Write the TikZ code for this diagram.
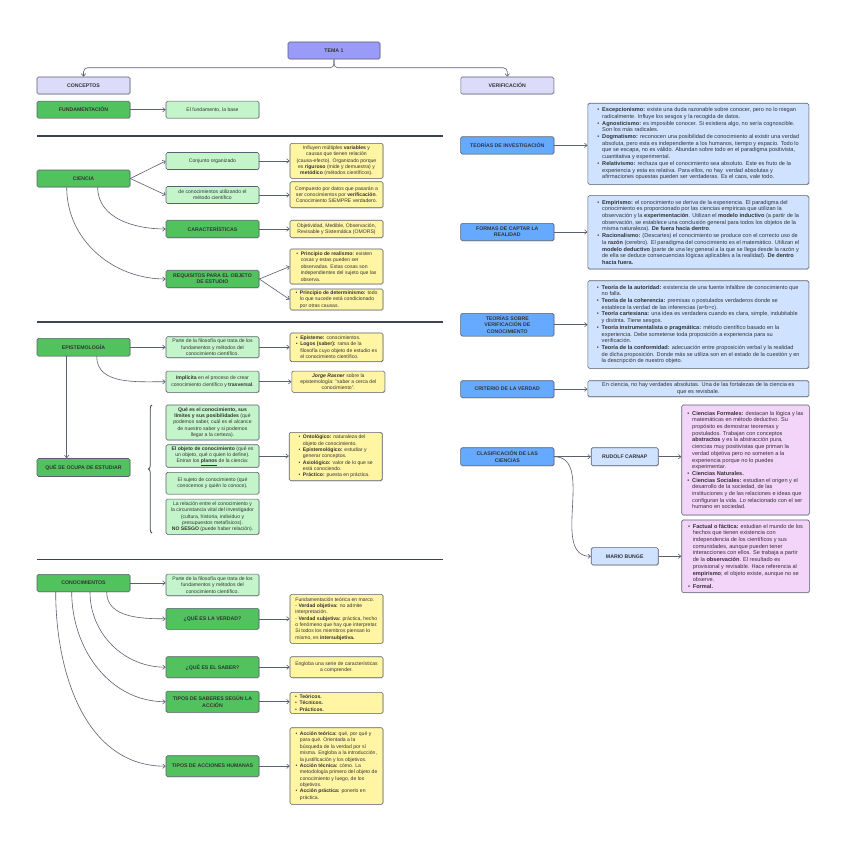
\documentclass[tikz,border=0pt]{standalone}
\usepackage{fontspec}
\setmainfont{Liberation Sans}
\usetikzlibrary{arrows.meta, positioning, backgrounds, shadows, decorations.pathreplacing}

\definecolor{mpTema}{HTML}{9A9AF8}
\definecolor{mpConcepto}{HTML}{DCDCFA}
\definecolor{mpBloque}{HTML}{52C25E}
\definecolor{mpIdea}{HTML}{C4F5CA}
\definecolor{mpNota}{HTML}{FFF5A3}
\definecolor{mpRama}{HTML}{66AAFF}
\definecolor{mpDetalle}{HTML}{CFE2FF}
\definecolor{mpClase}{HTML}{F3D5FA}
\definecolor{mpLinea}{HTML}{5B6070}
\definecolor{mpSep}{HTML}{3E4451}
\definecolor{mpTexto}{HTML}{333333}

\newcommand\bul{\makebox[0.85em][l]{\textbullet}}
\newcommand\sig{\hspace*{0.85em}}
\newcommand\titfont{\fontsize{5.2}{6.3}\selectfont\bfseries}
\newcommand\txtfont{\fontsize{5.1}{6.35}\selectfont}
\newcommand\anchofont{\fontsize{5.6}{6.7}\selectfont}

\tikzset{
  caja/.style={
    draw=mpLinea, line width=0.6pt, rounded corners=1.5pt, align=center,
    inner sep=1.5pt, text=mpTexto, font=\txtfont,
    minimum width=93pt, minimum height=17pt,
    drop shadow={shadow xshift=0.7pt, shadow yshift=-0.7pt, opacity=0.25}
  },
  tema/.style={caja, fill=mpTema, font=\titfont, minimum width=92pt},
  concepto/.style={caja, fill=mpConcepto, font=\titfont},
  bloque/.style={caja, fill=mpBloque, font=\titfont},
  idea/.style={caja, fill=mpIdea},
  nota/.style={caja, fill=mpNota},
  rama/.style={caja, fill=mpRama, font=\titfont, minimum width=93.3pt},
  detalle/.style={caja, fill=mpDetalle, font=\anchofont, minimum width=221pt},
  autor/.style={caja, fill=mpDetalle, font=\titfont, minimum width=67pt},
  clase/.style={caja, fill=mpClase, font=\anchofont, minimum width=127.6pt},
  enlace/.style={-{Straight Barb[length=2.6pt, width=4.4pt]}, draw=mpLinea, line width=0.6pt},
  separador/.style={draw=mpSep, line width=1.8pt},
  llave/.style={decorate, decoration={brace, amplitude=3.5pt}, draw=mpSep, line width=0.8pt}
}

\begin{document}
\begin{tikzpicture}[x=1pt, y=1pt]
  \useasboundingbox[fill=white] (0,0) rectangle (848,-848);

  % cabecera
  \node[tema] (tema) at (334,-50.5) {TEMA 1};
  \node[concepto] (conceptos) at (83.5,-85.5) {CONCEPTOS};
  \node[concepto] (verif) at (507.3,-85.5) {VERIFICACIÓN};
  \draw[enlace, rounded corners=4pt] (tema.south) -- ++(0,-8.5) -| (conceptos.north);
  \draw[enlace, rounded corners=4pt] (tema.south) -- ++(0,-8.5) -| (verif.north);

  \node[bloque] (fund) at (83.5,-109.7) {FUNDAMENTACIÓN};
  \node[idea] (fundbase) at (212.5,-109.7) {El fundamento, la base};
  \draw[enlace] (fund) -- (fundbase);

  \draw[separador] (37,-136) -- (443,-136);

  % ciencia
  \node[bloque] (ciencia) at (83.5,-178.5) {CIENCIA};
  \node[idea] (conjunto) at (212.5,-161) {Conjunto organizado};
  \node[idea] (metodo) at (212.5,-195) {de conocimientos utilizando el\\método científico};
  \node[bloque, minimum height=17.5pt] (caract) at (212.5,-229) {CARACTERÍSTICAS};
  \node[bloque, minimum height=17.5pt] (requisitos) at (212.5,-279) {REQUISITOS PARA EL OBJETO\\DE ESTUDIO};
  \node[nota, minimum height=35pt] (variables) at (336.5,-160.8)
    {Influyen múltiples \textbf{variables} y\\causas que tienen relación\\(causa-efecto). Organizado porque\\es \textbf{riguroso} (mide y demuestra) y\\\textbf{metódico} (métodos científicos).};
  \node[nota, minimum height=26pt] (verificado) at (336.5,-194.7)
    {Compuesto por datos que pasarán a\\ser conocimientos por \textbf{verificación}.\\Conocimiento SIEMPRE verdadero.};
  \node[nota, minimum height=17.5pt] (omors) at (336.5,-229)
    {Objetividad, Medible, Observación,\\Revisable y Sistemática (OMORS)};
  \node[nota, minimum height=35pt, align=left] (realismo) at (336.5,-266.5)
    {\bul\textbf{Principio de realismo:} existen\\\sig cosas y estas pueden ser\\\sig observadas. Estas cosas son\\\sig independientes del sujeto que las\\\sig observa.};
  \node[nota, minimum height=21pt, align=left] (determinismo) at (336.5,-299.5)
    {\bul\textbf{Principio de determinismo:} todo\\\sig lo que sucede está condicionado\\\sig por otras causas.};
  \draw[enlace] (ciencia.east) -- (conjunto.west);
  \draw[enlace] (ciencia.east) -- (metodo.west);
  \draw[enlace] ([xshift=14.2pt]ciencia.south) to[out=-90, in=180] (caract.west);
  \draw[enlace] ([xshift=-16.8pt]ciencia.south) to[out=-90, in=180] (requisitos.west);
  \draw[enlace] (conjunto.east) -- (conjunto.east -| variables.west);
  \draw[enlace] (metodo.east) -- (metodo.east -| verificado.west);
  \draw[enlace] (caract) -- (omors);
  \draw[enlace] (requisitos.east) -- (realismo.west);
  \draw[enlace] (requisitos.east) -- (determinismo.west);

  \draw[separador] (37,-322) -- (443,-322);

  % epistemologia
  \node[bloque, minimum height=17.7pt] (epist) at (83.5,-347.2) {EPISTEMOLOGÍA};
  \node[idea, minimum height=21pt] (filosofia) at (212.5,-347.2)
    {Parte de la filosofía que trata de los\\fundamentos y métodos del\\conocimiento científico.};
  \node[nota, minimum height=28.7pt, align=left] (episteme) at (336.5,-347.3)
    {\bul\textbf{Episteme:} conocimientos.\\\bul\textbf{Logos (saber):} rama de la\\\sig filosofía cuyo objeto de estudio es\\\sig el conocimiento científico.};
  \node[idea, minimum height=21.3pt] (implicita) at (212.5,-381.7)
    {\textbf{Implícita} en el proceso de crear\\conocimiento científico y \textbf{trasversal}.};
  \node[nota, minimum height=21.3pt] (rasner) at (338.3,-381.7)
    {\textbf{\textit{Jorge Rasner}} sobre la\\epistemología: "saber a cerca del\\conocimiento".};
  \node[bloque, minimum height=18pt] (ocupa) at (83.5,-467.5) {QUÉ SE OCUPA DE ESTUDIAR};
  \node[idea, minimum height=35pt] (quees) at (212.5,-422.5)
    {\textbf{Qué es el conocimiento, sus}\\\textbf{límites y sus posibilidades} (qué\\podemos saber, cuál es el alcance\\de nuestro saber y si podemos\\llegar a la certeza).};
  \node[idea, minimum height=22pt] (objeto) at (212.5,-456)
    {\textbf{El objeto de conocimiento} (qué es\\un objeto, qué o quien lo define).\\Entran los \underline{\textbf{planos}} de la ciencia:};
  \node[idea, minimum height=21.7pt] (sujeto) at (212.5,-483.2)
    {El sujeto de conocimiento (qué\\conocemos y quién lo conoce).};
  \node[idea, minimum height=35.3pt] (relacion) at (212.5,-516.7)
    {La relación entre el conocimiento y\\la circunstancia vital del investigador\\(cultura, historia, individuo y\\presupuestos metafísicos).\\\textbf{NO SESGO} (puede haber relación).};
  \node[nota, minimum height=48.4pt, align=left] (planos) at (335.7,-456.5)
    {\bul\textbf{Ontológico:} naturaleza del\\\sig objeto de conocimiento.\\\bul\textbf{Epistemológico:} estudiar y\\\sig generar conceptos.\\\bul\textbf{Axiológico:} valor de lo que se\\\sig está conociendo.\\\bul\textbf{Práctico:} puesta en práctica.};
  \draw[llave] (152,-533) -- (152,-405);
  \draw[enlace] (epist) -- (filosofia);
  \draw[enlace] (filosofia.east) -- (filosofia.east -| episteme.west);
  \draw[enlace] ([xshift=13.2pt]epist.south) to[out=-90, in=180] (implicita.west);
  \draw[enlace] (implicita) -- (rasner);
  \draw[enlace] ([xshift=-16.8pt]epist.south) -- ([xshift=-16.8pt]ocupa.north);
  \draw[enlace] (objeto.east) -- (objeto.east -| planos.west);

  \draw[separador] (37,-559.5) -- (443,-559.5);

  % conocimientos
  \node[bloque, minimum height=17.4pt] (conoc) at (83.5,-583) {CONOCIMIENTOS};
  \node[idea, minimum height=21.7pt] (filosofiados) at (212.5,-584.9)
    {Parte de la filosofía que trata de los\\fundamentos y métodos del\\conocimiento científico.};
  \node[bloque, minimum height=21pt] (verdad) at (212.5,-618.8) {¿QUÉ ES LA VERDAD?};
  \node[nota, minimum height=49pt, align=left] (notaverdad) at (336.5,-618.8)
    {Fundamentación teórica en marco.\\- \textbf{Verdad objetiva:} no admite\\interpretación.\\- \textbf{Verdad subjetiva:} práctica, hecho\\o fenómeno que hay que interpretar.\\Si todos los miembros piensan lo\\mismo, es \textbf{intersubjetiva.}};
  \node[bloque, minimum height=21pt] (saber) at (212.5,-667.2) {¿QUÉ ES EL SABER?};
  \node[nota, minimum height=21pt] (notasaber) at (336.5,-667.2)
    {Engloba una serie de características\\a comprender.};
  \node[bloque, minimum height=21.3pt] (saberes) at (212.5,-701.7) {TIPOS DE SABERES SEGÚN LA\\ACCIÓN};
  \node[nota, minimum height=21pt, align=left] (notasaberes) at (336.5,-702.8)
    {\bul\textbf{Teóricos.}\kern56pt\\\bul\textbf{Técnicos.}\\\bul\textbf{Prácticos.}};
  \node[bloque, minimum height=21pt] (acciones) at (212.5,-766.2) {TIPOS DE ACCIONES HUMANAS};
  \node[nota, minimum height=76.6pt, align=left] (notaacciones) at (336.5,-766)
    {\bul\textbf{Acción teórica:} qué, por qué y\\\sig para qué. Orientada a la\\\sig búsqueda de la verdad por sí\\\sig misma. Engloba a la introducción,\\\sig la justificación y los objetivos.\\\bul\textbf{Acción técnica:} cómo. La\\\sig metodología primero del objeto de\\\sig conocimiento y luego, de los\\\sig objetivos.\\\bul\textbf{Acción práctica:} ponerlo en\\\sig práctica.};
  \draw[enlace] (conoc.east) -- (conoc.east -| filosofiados.west);
  \draw[enlace] ([xshift=23.2pt]conoc.south) to[out=-90, in=180] (verdad.west);
  \draw[enlace] ([xshift=6.5pt]conoc.south) to[out=-90, in=180] (saber.west);
  \draw[enlace] ([xshift=-11.8pt]conoc.south) to[out=-90, in=180] (saberes.west);
  \draw[enlace] ([xshift=-27.8pt]conoc.south) to[out=-90, in=180] (acciones.west);
  \draw[enlace] (verdad) -- (notaverdad);
  \draw[enlace] (saber) -- (notasaber);
  \draw[enlace] (saberes.east) -- (saberes.east -| notasaberes.west);
  \draw[enlace] (acciones.east) -- (acciones.east -| notaacciones.west);

  % verificacion
  \node[rama, minimum height=17.3pt] (teoinv) at (507.3,-145.4) {TEORÍAS DE INVESTIGACIÓN};
  \node[detalle, minimum height=81pt, align=left] (detinv) at (698.3,-143.8)
    {\bul\textbf{Escepcionismo:} existe una duda razonable sobre conocer, pero no lo niegan\\\sig radicalmente. Influye los sesgos y la recogida de datos.\\\bul\textbf{Agnosticismo:} es imposible conocer. Si existiera algo, no sería cognoscible.\\\sig Son los más radicales.\\\bul\textbf{Dogmatismo:} reconocen una posibilidad de conocimiento al existir una verdad\\\sig absoluta, pero esta es independiente a los humanos, tiempo y espacio. Todo lo\\\sig que se escapa, no es válido. Abundan sobre todo en el paradigma positivista,\\\sig cuantitativa y experimental.\\\bul\textbf{Relativismo:} rechaza que el conocimiento sea absoluto. Este es fruto de la\\\sig experiencia y esta es relativa. Para ellos, no hay\ \ verdad absolutas y\\\sig afirmaciones opuestas pueden ser verdaderas. Es el caos, vale todo.};
  \node[rama, minimum height=17.4pt] (formas) at (507.3,-232) {FORMAS DE CAPTAR LA\\REALIDAD};
  \node[detalle, minimum height=73.3pt, align=left] (detformas) at (698.3,-232.3)
    {\bul\textbf{Empirismo:} el conocimiento se deriva de la experiencia. El paradigma del\\\sig conocimiento es proporcionado por las ciencias empíricas que utilizan la\\\sig observación y la \textbf{experimentación}. Utilizan el \textbf{modelo inductivo} (a partir de la\\\sig observación, se establece una conclusión general para todos los objetos de la\\\sig misma naturaleza). \textbf{De fuera hacia dentro}.\\\bul\textbf{Racionalismo:} (Descartes) el conocimiento se produce con el correcto uso de\\\sig la \textbf{razón} (cerebro). El paradigma del conocimiento es el matemático. Utilizan el\\\sig\textbf{modelo deductivo} (parte de una ley general a la que se llega desde la razón y\\\sig de ella se deduce consecuencias lógicas aplicables a la realidad). \textbf{De dentro}\\\sig\textbf{hacia fuera.}};
  \node[rama, minimum height=22.7pt] (teover) at (507.3,-324.7) {TEORÍAS SOBRE\\VERIFICACIÓN DE\\CONOCIMIENTO};
  \node[detalle, minimum height=87.6pt, align=left] (detver) at (698.3,-324.5)
    {\bul\textbf{Teoría de la autoridad:} existencia de una fuente infalibre de conocimiento que\\\sig no falla.\\\bul\textbf{Teoría de la coherencia:} premisas o postulados verdaderos donde se\\\sig establece la verdad de las inferencias (a=b=c).\\\bul\textbf{Teoría cartesiana:} una idea es verdadera cuando es clara, simple, indubitable\\\sig y distinta. Tiene sesgos.\\\bul\textbf{Teoría instrumentalista o pragmática:} método científico basado en la\\\sig experiencia. Debe someterse toda proposición a experiencia para su\\\sig verificación.\\\bul\textbf{Teoría de la conformidad:} adecuación entre proposición verbal y la realidad\\\sig de dicha proposición. Donde más se utiliza son en el estado de la cuestión y en\\\sig la descripción de nuestro objeto.};
  \node[rama] (criterio) at (507.3,-389.2) {CRITERIO DE LA VERDAD};
  \node[detalle, minimum height=16pt] (detcriterio) at (698.3,-388.7)
    {En ciencia, no hay verdades absolutas. Una de las fortalezas de la ciencia es\\que es revisbale.};
  \node[rama, minimum height=18pt] (clasif) at (507.3,-456.7) {CLASIFICACIÓN DE LAS\\CIENCIAS};
  \node[autor, minimum height=18pt] (carnap) at (624.7,-456.7) {RUDOLF CARNAP};
  \node[autor, minimum height=17.3pt] (bunge) at (624.7,-556.3) {MARIO BUNGE};
  \node[clase, minimum height=110pt, align=left] (detcarnap) at (745.5,-460)
    {\bul\textbf{Ciencias Formales:} destacan la lógica y las\\\sig matemáticas en método deductivo. Su\\\sig propósito es demostrar teoremas y\\\sig postulados. Trabajan con conceptos\\\sig\textbf{abstractos} y es la abstracción pura,\\\sig ciencias muy positivistas que priman la\\\sig verdad objetiva pero no someten a la\\\sig experiencia porque no lo puedes\\\sig experimentar.\\\bul\textbf{Ciencias Naturales.}\\\bul\textbf{Ciencias Sociales:} estudian el origen y el\\\sig desarrollo de la sociedad, de las\\\sig instituciones y de las relaciones e ideas que\\\sig configuran la vida. Lo relacionado con el ser\\\sig humano en sociedad.};
  \node[clase, minimum height=72.7pt, align=left] (detbunge) at (745.5,-556.3)
    {\bul\textbf{Factual o fáctica:} estudian el mundo de los\\\sig hechos que tienen existencia con\\\sig independencia de los científicos y sus\\\sig comunidades, aunque pueden tener\\\sig interacciones con ellos. Se trabaja a partir\\\sig de la \textbf{observación}. El resultado es\\\sig provisional y revisable. Hace referencia al\\\sig\textbf{empirismo}; el objeto existe, aunque no se\\\sig observe.\\\bul\textbf{Formal.}};
  \begin{scope}[on background layer]
    \draw[enlace] (verif.south) -- (clasif.north);
  \end{scope}
  \draw[enlace] (teoinv.east) -- (teoinv.east -| detinv.west);
  \draw[enlace] (formas.east) -- (formas.east -| detformas.west);
  \draw[enlace] (teover.east) -- (teover.east -| detver.west);
  \draw[enlace] (criterio.east) -- (criterio.east -| detcriterio.west);
  \draw[enlace] (clasif.east) -- (carnap.west);
  \draw[enlace] (clasif.east) to[out=0, in=180] (bunge.west);
  \draw[enlace] (carnap.east) -- (carnap.east -| detcarnap.west);
  \draw[enlace] (bunge) -- (detbunge);
\end{tikzpicture}
\end{document}
